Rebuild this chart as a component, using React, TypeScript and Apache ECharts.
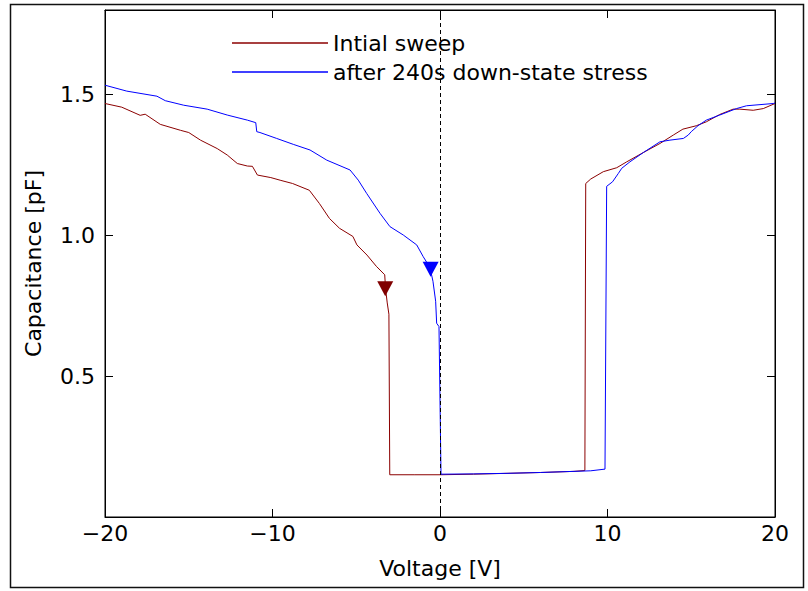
import React, { useEffect, useRef } from "react";
import * as echarts from "echarts";

// Initial sweep (dark red)
const redVoltage = [-20, -19.0, -17.9, -17.6, -16.7, -15.5, -15.0, -14.3, -13.3, -12.7, -12.1, -11.5, -11.2, -10.9, -10.1, -9.5, -8.8, -7.8, -7.2, -6.6, -6.0, -5.2, -4.96, -4.36, -3.8, -3.3, -3.25, -3.15, -3.05, -3.0, -1.5, 0, 2, 4, 6, 8, 8.65, 8.7, 9.0, 9.75, 10.55, 11.15, 12.14, 13.13, 13.93, 14.5, 15.3, 15.9, 16.7, 17.5, 17.9, 18.7, 19.3, 20];
const redCap = [1.468, 1.455, 1.426, 1.43, 1.394, 1.373, 1.365, 1.338, 1.308, 1.285, 1.255, 1.246, 1.245, 1.214, 1.205, 1.195, 1.184, 1.16, 1.113, 1.06, 1.025, 0.996, 0.966, 0.93, 0.89, 0.86, 0.81, 0.76, 0.72, 0.15, 0.15, 0.15, 0.152, 0.155, 0.158, 0.162, 0.165, 1.184, 1.2, 1.226, 1.24, 1.261, 1.294, 1.326, 1.356, 1.377, 1.389, 1.403, 1.429, 1.448, 1.448, 1.444, 1.45, 1.468];

// After 240s down-state stress (blue)
const blueVoltage = [-20, -18.7, -16.9, -16.4, -15.3, -13.9, -12.7, -11.5, -11.0, -10.94, -10.75, -9.75, -8.76, -7.76, -6.76, -5.37, -4.88, -4.38, -3.58, -2.99, -2.19, -1.39, -1.0, -0.6, -0.42, -0.26, -0.2, -0.06, 0.06, 2, 4, 6, 8, 9.0, 9.85, 9.95, 10.3, 10.65, 10.85, 11.34, 12.14, 13.13, 13.73, 14.53, 14.82, 15.0, 15.4, 15.9, 16.7, 17.7, 18.3, 19.9, 20];
const blueCap = [1.533, 1.512, 1.494, 1.478, 1.462, 1.448, 1.427, 1.409, 1.4, 1.368, 1.365, 1.344, 1.323, 1.303, 1.267, 1.232, 1.196, 1.149, 1.078, 1.031, 1.001, 0.966, 0.924, 0.886, 0.837, 0.766, 0.688, 0.676, 0.152, 0.153, 0.155, 0.158, 0.162, 0.164, 0.17, 1.174, 1.19, 1.22, 1.238, 1.261, 1.294, 1.332, 1.338, 1.344, 1.356, 1.368, 1.389, 1.409, 1.427, 1.45, 1.46, 1.468, 1.47];

// Triangle markers
const redMarker = [-3.27, 0.81];
const blueMarker = [-0.56, 0.88];

const seriesNames = ["Intial sweep", "after 240s down-state stress"];
const xTicks = { min: -20, max: 20, interval: 10 };
const yTicks = { min: 0, max: 1.8, interval: 0.5 };

const FONT = "DejaVu Sans";

export default function App() {
  const ref = useRef<HTMLDivElement>(null);
  useEffect(() => {
    if (!ref.current) return;
    const chart = echarts.init(ref.current, undefined, { renderer: "svg" });
    const pair = (xs: number[], ys: number[]) => xs.map((x, i) => [x, ys[i]]);
    const xFmt = (v: number) => (v < 0 ? "\u2212" + Math.abs(v) : String(v));
    const yFmt = (v: number) =>
      v > 0 && Math.abs(v * 2 - Math.round(v * 2)) < 1e-6 ? v.toFixed(1) : "";
    const tick = { inside: true, length: 8, lineStyle: { color: "#000", width: 1 } };
    const line = { show: true, onZero: false, lineStyle: { color: "#000", width: 1 } };
    chart.setOption({
      animation: false,
      textStyle: { fontFamily: FONT },
      graphic: [
        {
          type: "rect",
          shape: { x: 10.5, y: 4.5, width: 793, height: 583 },
          style: { fill: "none", stroke: "#111", lineWidth: 1.5 },
          silent: true,
        },
      ],
      grid: {
        left: 105,
        top: 10,
        width: 670,
        height: 507,
        show: true,
        borderColor: "#000",
        borderWidth: 1,
        backgroundColor: "transparent",
      },
      legend: {
        orient: "vertical",
        left: 232,
        top: 32,
        padding: 0,
        icon: "rect",
        itemWidth: 96,
        itemHeight: 1.5,
        itemGap: 7,
        textStyle: { fontSize: 22, color: "#000", fontFamily: FONT },
        data: seriesNames,
      },
      xAxis: [
        {
          type: "value",
          position: "bottom",
          ...xTicks,
          axisLine: line,
          axisTick: tick,
          splitLine: { show: false },
          axisLabel: { fontSize: 22, color: "#000", margin: 5, formatter: xFmt, fontFamily: FONT },
          name: "Voltage [V]",
          nameLocation: "middle",
          nameGap: 40,
          nameTextStyle: { fontSize: 22, color: "#000", fontFamily: FONT },
        },
        {
          type: "value",
          position: "top",
          ...xTicks,
          axisLine: line,
          axisTick: tick,
          splitLine: { show: false },
          axisLabel: { show: false },
        },
      ],
      yAxis: [
        {
          type: "value",
          position: "left",
          ...yTicks,
          axisLine: line,
          axisTick: tick,
          splitLine: { show: false },
          axisLabel: { fontSize: 22, color: "#000", margin: 10, formatter: yFmt, fontFamily: FONT },
          name: "Capacitance [pF]",
          nameLocation: "middle",
          nameGap: 61,
          nameTextStyle: { fontSize: 22, color: "#000", fontFamily: FONT },
        },
        {
          type: "value",
          position: "right",
          ...yTicks,
          axisLine: line,
          axisTick: tick,
          splitLine: { show: false },
          axisLabel: { show: false },
        },
      ],
      series: [
        {
          name: seriesNames[0],
          type: "line",
          data: pair(redVoltage, redCap),
          symbol: "none",
          showSymbol: false,
          lineStyle: { color: "#8b0000", width: 1 },
          itemStyle: { color: "#8b0000" },
          z: 3,
          markLine: {
            silent: true,
            symbol: ["none", "none"],
            label: { show: false },
            lineStyle: { color: "#000", type: [4, 3], width: 1 },
            data: [{ xAxis: 0 }],
          },
        },
        {
          name: seriesNames[1],
          type: "line",
          data: pair(blueVoltage, blueCap),
          symbol: "none",
          showSymbol: false,
          lineStyle: { color: "#0000ff", width: 1 },
          itemStyle: { color: "#0000ff" },
          z: 3,
        },
        {
          name: "redMarker",
          type: "scatter",
          data: [redMarker],
          symbol: "triangle",
          symbolRotate: 180,
          symbolSize: [16, 15],
          itemStyle: { color: "#800000", opacity: 1 },
          z: 5,
        },
        {
          name: "blueMarker",
          type: "scatter",
          data: [blueMarker],
          symbol: "triangle",
          symbolRotate: 180,
          symbolSize: [16, 15],
          itemStyle: { color: "#0000ff", opacity: 1 },
          z: 5,
        },
      ],
    });
    return () => chart.dispose();
  }, []);
  return (
    <div
      ref={ref}
      style={{ position: "fixed", left: 0, top: 0, width: 808, height: 591, background: "#fff" }}
    />
  );
}
